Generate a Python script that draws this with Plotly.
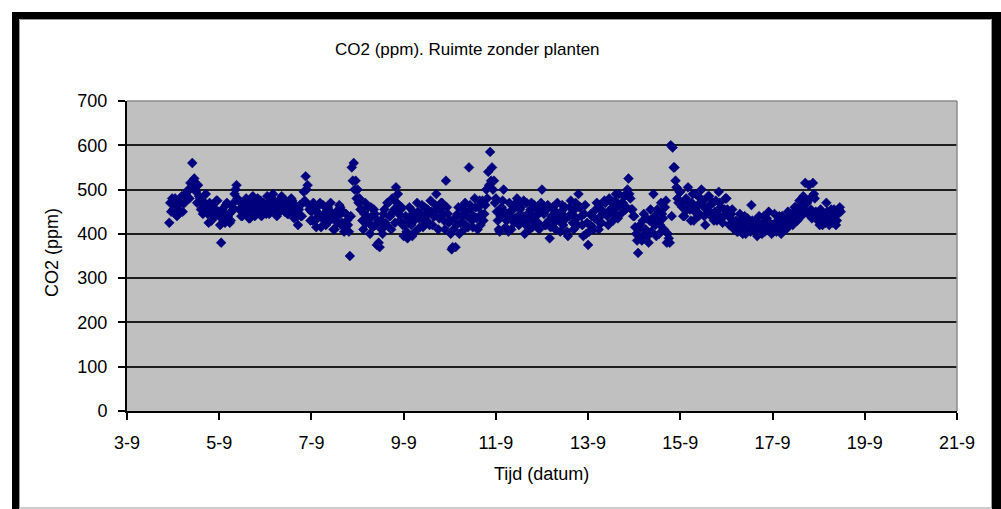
import plotly.graph_objects as go
import pandas as pd

# ---------------- data (half-hourly CO2 readings, ppm) ----------------
START = "2007-09-03 22:00"
STEP = "30min"
co2_03 = [425, 470, 450, 480]
co2_04 = [455, 470, 480, 445, 440, 465, 465, 450, 475, 485, 450, 470,
          470, 490, 485, 495, 500, 480, 515, 505, 560, 520, 525, 500,
          495, 470, 510, 485, 480, 455, 470, 445, 455, 470, 490, 460,
          445, 425, 470, 450, 430, 465, 460, 440, 440, 475, 475, 450]
co2_05 = [440, 420, 380, 455, 450, 430, 425, 465, 470, 440, 445, 425,
          430, 450, 460, 470, 490, 500, 510, 480, 475, 455, 455, 440,
          440, 465, 465, 450, 480, 470, 450, 435, 435, 460, 470, 485,
          455, 440, 445, 470, 480, 450, 460, 475, 440, 465, 470, 455]
co2_06 = [460, 445, 485, 470, 445, 460, 470, 480, 490, 455, 455, 470,
          440, 465, 475, 450, 465, 485, 480, 460, 450, 475, 470, 445,
          445, 470, 460, 480, 475, 450, 435, 465, 450, 440, 420, 455,
          465, 440, 440, 470, 495, 475, 530, 500, 510, 465, 455, 430]
co2_07 = [450, 430, 470, 455, 430, 415, 460, 440, 445, 470, 415, 435,
          465, 445, 440, 420, 425, 460, 455, 430, 470, 445, 435, 410,
          410, 445, 450, 425, 440, 465, 460, 420, 425, 450, 405, 415,
          445, 430, 420, 405, 350, 440, 550, 520, 560, 500, 520, 480]
co2_08 = [500, 470, 480, 455, 455, 430, 410, 445, 470, 425, 440, 460,
          425, 400, 460, 440, 415, 455, 445, 420, 375, 430, 380, 370,
          430, 410, 400, 445, 455, 425, 420, 470, 470, 440, 440, 410,
          480, 450, 455, 425, 505, 470, 490, 445, 430, 455, 460, 420]
co2_09 = [395, 420, 440, 405, 390, 425, 460, 440, 420, 395, 450, 430,
          405, 440, 470, 450, 435, 415, 445, 465, 415, 430, 460, 440,
          430, 455, 450, 420, 475, 450, 420, 440, 440, 465, 490, 455,
          410, 435, 455, 470, 470, 445, 430, 410, 520, 460, 445, 425]
co2_10 = [430, 400, 365, 370, 410, 435, 370, 420, 445, 460, 400, 425,
          460, 440, 425, 410, 470, 450, 440, 415, 550, 465, 455, 430,
          415, 440, 480, 460, 435, 410, 460, 475, 420, 445, 475, 430,
          445, 465, 500, 480, 540, 510, 585, 520, 550, 500, 520, 470]
co2_11 = [480, 450, 430, 410, 405, 440, 460, 475, 500, 450, 415, 430,
          445, 405, 470, 440, 410, 455, 455, 425, 435, 470, 480, 440,
          420, 455, 460, 430, 440, 475, 400, 420, 470, 445, 430, 410,
          455, 470, 415, 440, 465, 425, 440, 455, 425, 410, 450, 470]
co2_12 = [500, 460, 445, 420, 420, 455, 465, 430, 390, 415, 440, 460,
          455, 425, 410, 440, 470, 445, 430, 405, 450, 465, 420, 440,
          460, 435, 405, 395, 440, 460, 475, 445, 425, 410, 455, 470,
          435, 420, 490, 460, 460, 440, 420, 395, 445, 465, 400, 425]
co2_13 = [375, 405, 420, 445, 440, 415, 410, 435, 455, 470, 430, 410,
          465, 440, 425, 450, 450, 475, 470, 445, 440, 420, 480, 455,
          455, 470, 430, 445, 475, 490, 460, 435, 490, 465, 445, 470,
          470, 485, 485, 455, 460, 500, 525, 490, 480, 455, 455, 440]
co2_14 = [440, 415, 400, 385, 357, 410, 420, 390, 385, 430, 445, 400,
          410, 435, 395, 380, 430, 455, 405, 425, 490, 440, 420, 395,
          455, 430, 400, 420, 470, 445, 435, 410, 460, 475, 380, 400,
          390, 380, 600, 440, 595, 550, 550, 520, 505, 480, 470, 495]
co2_15 = [495, 470, 460, 440, 440, 475, 480, 455, 505, 470, 455, 430,
          470, 490, 430, 450, 490, 460, 465, 440, 445, 480, 500, 465,
          475, 440, 420, 455, 460, 485, 485, 450, 440, 470, 470, 430,
          450, 475, 430, 445, 495, 470, 460, 435, 425, 440, 455, 480]
co2_16 = [480, 455, 440, 420, 420, 445, 455, 430, 410, 425, 430, 405,
          405, 420, 445, 430, 415, 400, 425, 440, 400, 415, 435, 420,
          420, 405, 465, 430, 410, 425, 430, 415, 395, 405, 440, 420,
          415, 400, 425, 440, 405, 420, 435, 410, 450, 425, 410, 400]
co2_17 = [420, 405, 445, 425, 405, 415, 430, 440, 415, 400, 440, 425,
          425, 410, 410, 435, 450, 430, 420, 445, 435, 420, 445, 460,
          460, 440, 430, 455, 475, 450, 440, 465, 485, 455, 515, 470,
          470, 445, 510, 480, 455, 435, 515, 490, 480, 450, 445, 430]
co2_18 = [430, 420, 455, 440, 420, 435, 445, 425, 470, 450, 425, 420,
          440, 455, 430, 425, 455, 440, 420, 430, 445, 455, 460, 450]

days = [co2_03, co2_04, co2_05, co2_06, co2_07, co2_08, co2_09, co2_10,
        co2_11, co2_12, co2_13, co2_14, co2_15, co2_16, co2_17, co2_18]
values = [v for d in days for v in d]
times = pd.date_range(START, periods=len(values), freq=STEP)

tick_dates = ["2007-09-03", "2007-09-05", "2007-09-07", "2007-09-09", "2007-09-11",
              "2007-09-13", "2007-09-15", "2007-09-17", "2007-09-19", "2007-09-21"]
tick_labels = ["3-9", "5-9", "7-9", "9-9", "11-9", "13-9", "15-9", "17-9", "19-9", "21-9"]
y_ticks = [0, 100, 200, 300, 400, 500, 600, 700]

TITLE = "CO2 (ppm). Ruimte zonder planten"
X_TITLE = "Tijd (datum)"
Y_TITLE = "CO2 (ppm)"

# ---------------- layout geometry ----------------
W, H = 1001, 509
L, R, T, B = 127, 957, 101, 411   # plot area in pixels
FONT = "Liberation Sans, Arial, sans-serif"


def xp(px):
    return (px - L) / (R - L)


def yp(py):
    return (B - py) / (B - T)


fig = go.Figure()
fig.add_trace(go.Scatter(
    x=times, y=values, mode="markers",
    marker=dict(symbol="diamond", size=7.5, color="#000080",
                line=dict(width=0.6, color="#000070")),
    showlegend=False,
))

shapes = [
    # plot-area top/right border (gray)
    dict(type="line", xref="paper", yref="paper", x0=0, x1=1, y0=1, y1=1,
         line=dict(color="#8c8c8c", width=1.5), layer="above"),
    dict(type="line", xref="paper", yref="paper", x0=1, x1=1, y0=0, y1=1,
         line=dict(color="#8c8c8c", width=1.5), layer="above"),
    # black frame bands
    dict(type="rect", xref="paper", yref="paper", x0=xp(12), x1=xp(19), y0=yp(510), y1=yp(12),
         fillcolor="black", line=dict(width=0)),
    dict(type="rect", xref="paper", yref="paper", x0=xp(12), x1=xp(1002), y0=yp(19), y1=yp(12),
         fillcolor="black", line=dict(width=0)),
    dict(type="rect", xref="paper", yref="paper", x0=xp(992), x1=xp(1002), y0=yp(510), y1=yp(12),
         fillcolor="black", line=dict(width=0)),
    # inner gray chart-area border
    dict(type="rect", xref="paper", yref="paper", x0=xp(19.5), x1=xp(991.5), y0=yp(508), y1=yp(19.5),
         fillcolor="rgba(0,0,0,0)", line=dict(color="#9a9a9a", width=1)),
]

annotations = [
    dict(text=TITLE, xref="paper", yref="paper", x=xp(467), y=yp(49),
         xanchor="center", yanchor="middle", showarrow=False,
         font=dict(family=FONT, size=17, color="black")),
    dict(text=X_TITLE, xref="paper", yref="paper", x=xp(541), y=yp(474),
         xanchor="center", yanchor="middle", showarrow=False,
         font=dict(family=FONT, size=18, color="black")),
    dict(text=Y_TITLE, xref="paper", yref="paper", x=xp(52), y=yp(253),
         xanchor="center", yanchor="middle", showarrow=False, textangle=-90,
         font=dict(family=FONT, size=18, color="black")),
]

fig.update_layout(
    width=W, height=H,
    margin=dict(l=L, r=W - R, t=T, b=H - B, pad=0),
    paper_bgcolor="white", plot_bgcolor="#C0C0C0",
    font=dict(family=FONT, color="black"),
    shapes=shapes, annotations=annotations,
    xaxis=dict(
        type="date", range=[tick_dates[0], tick_dates[-1]],
        tickvals=tick_dates, ticktext=tick_labels,
        showgrid=False, zeroline=False,
        showline=True, linecolor="black", linewidth=2,
        ticks="outside", ticklen=7, tickwidth=1.5, tickcolor="black",
        ticklabelstandoff=7,
        tickfont=dict(family=FONT, size=18, color="black"),
        automargin=False,
    ),
    yaxis=dict(
        range=[0, 700], tickvals=y_ticks,
        showgrid=True, gridcolor="#1e1e1e", gridwidth=2,
        zeroline=False,
        showline=True, linecolor="black", linewidth=2,
        ticks="outside", ticklen=7, tickwidth=1.5, tickcolor="black",
        ticklabelstandoff=7,
        tickfont=dict(family=FONT, size=18, color="black"),
        automargin=False,
    ),
)

fig.write_html("out.html")
